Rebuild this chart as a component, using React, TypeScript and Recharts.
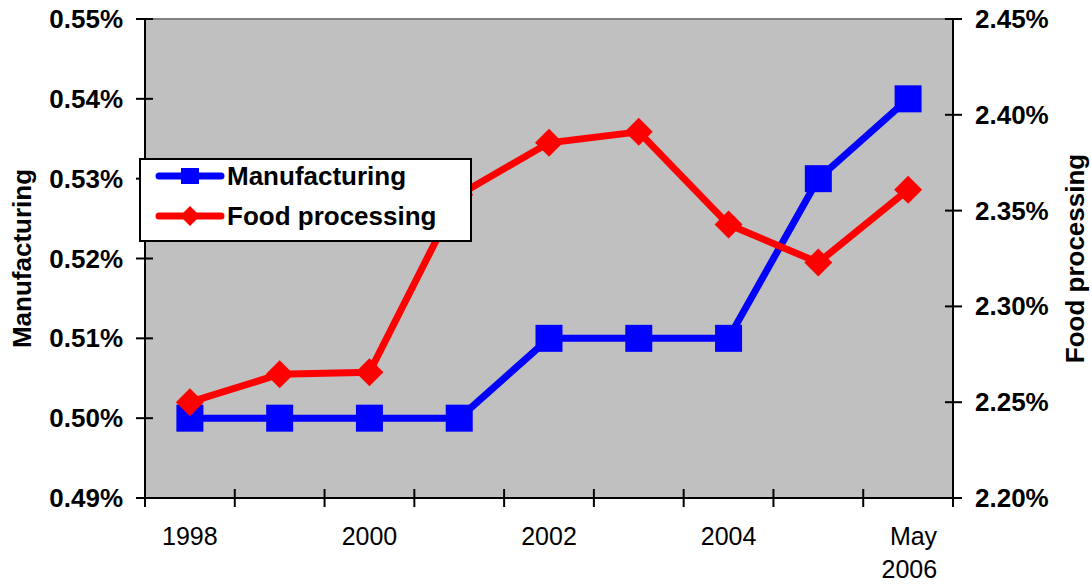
import { LineChart, Line, XAxis, YAxis, CartesianGrid, ReferenceLine } from "recharts"

const categories = ["1998", "1999", "2000", "2001", "2002", "2003", "2004", "2005", "May 2006"]
const manufacturing = [0.5, 0.5, 0.5, 0.5, 0.51, 0.51, 0.51, 0.53, 0.54]
const foodProcessing = [2.25, 2.2646, 2.2656, 2.3583, 2.3854, 2.3911, 2.3427, 2.3229, 2.3609]
const leftTicks = [0.49, 0.5, 0.51, 0.52, 0.53, 0.54, 0.55]
const rightTicks = [2.2, 2.25, 2.3, 2.35, 2.4, 2.45]
const labelledCategories = ["1998", "2000", "2002", "2004", "May 2006"]

const FONT = "'Liberation Sans', Arial, sans-serif"
const BLUE = "#0000FF"
const RED = "#FF0000"

const data = categories.map((c, i) => ({
  pos: i + 0.5,
  name: c,
  manufacturing: manufacturing[i],
  food: foodProcessing[i],
}))

// tick lines sit on category boundaries, labels in the middle of a category
const boundaryTicks = categories.map((_, i) => i).concat([categories.length])
const labelTicks = labelledCategories.map((c) => categories.indexOf(c) + 0.5)
const xTicks = [...boundaryTicks, ...labelTicks].sort((a, b) => a - b)

function XTick({ x, y, payload }: any) {
  const v = payload.value
  if (Number.isInteger(v)) {
    return <line x1={x} x2={x} y1={y - 9} y2={y + 9} stroke="#000" strokeWidth={2} />
  }
  const lines = categories[Math.floor(v)].split(" ")
  const multi = lines.length > 1
  return (
    <text
      x={multi ? x + 29 : x}
      y={y + 47}
      textAnchor={multi ? "end" : "middle"}
      fontFamily={FONT}
      fontSize={25}
      fill="#000"
    >
      {lines.map((l, i) => (
        <tspan key={i} x={multi ? x + 29 : x} dy={i === 0 ? 0 : 33}>
          {l}
        </tspan>
      ))}
    </text>
  )
}

function LeftTick({ x, y, payload }: any) {
  return (
    <g>
      <line x1={x - 9} x2={x + 8} y1={y} y2={y} stroke="#000" strokeWidth={2} />
      <text x={x - 22} y={y} textAnchor="end" dominantBaseline="central" fontFamily={FONT} fontSize={26} fontWeight="bold" fill="#000">
        {payload.value.toFixed(2)}%
      </text>
    </g>
  )
}

function RightTick({ x, y, payload }: any) {
  return (
    <g>
      <line x1={x - 8} x2={x + 9} y1={y} y2={y} stroke="#000" strokeWidth={2} />
      <text x={x + 22} y={y} textAnchor="start" dominantBaseline="central" fontFamily={FONT} fontSize={26} fontWeight="bold" fill="#000">
        {payload.value.toFixed(2)}%
      </text>
    </g>
  )
}

function axisTitle(text: string, dx: number) {
  return ({ viewBox }: any) => {
    const cx = viewBox.x + dx
    const cy = viewBox.y + viewBox.height / 2
    return (
      <text
        x={cx}
        y={cy}
        textAnchor="middle"
        dominantBaseline="central"
        transform={`rotate(-90, ${cx}, ${cy})`}
        fontFamily={FONT}
        fontSize={26}
        fontWeight="bold"
        fill="#000"
      >
        {text}
      </text>
    )
  }
}

function SquareDot(props: any) {
  const { cx, cy, index } = props
  return <rect key={`sq-${index}`} x={cx - 13.5} y={cy - 13.5} width={27} height={27} fill={BLUE} />
}

function DiamondDot(props: any) {
  const { cx, cy, index } = props
  const r = 14
  return (
    <polygon
      key={`dm-${index}`}
      points={`${cx},${cy - r} ${cx + r},${cy} ${cx},${cy + r} ${cx - r},${cy}`}
      fill={RED}
    />
  )
}

const legendItems = [
  { name: "Manufacturing", color: BLUE, marker: "square" },
  { name: "Food processing", color: RED, marker: "diamond" },
]

function LegendBox() {
  return (
    <div
      style={{
        position: "absolute",
        left: 139,
        top: 158,
        width: 333,
        height: 84,
        boxSizing: "border-box",
        border: "2px solid #000",
        background: "#fff",
      }}
    >
      <svg width={329} height={80} style={{ display: "block" }}>
        {legendItems.map((it, i) => {
          const cy = 16 + i * 40
          return (
            <g key={it.name}>
              <line x1={18} x2={80} y1={cy} y2={cy} stroke={it.color} strokeWidth={7} strokeLinecap="round" />
              {it.marker === "square" ? (
                <rect x={40} y={cy - 8} width={18} height={16} fill={it.color} />
              ) : (
                <polygon points={`49,${cy - 10} 59,${cy} 49,${cy + 10} 39,${cy}`} fill={it.color} />
              )}
              <text x={86} y={cy} dominantBaseline="central" fontFamily={FONT} fontSize={26} fontWeight="bold" fill="#000">
                {it.name}
              </text>
            </g>
          )
        })}
      </svg>
    </div>
  )
}

export default function App() {
  return (
    <div style={{ position: "absolute", left: 0, top: 0, width: 1091, height: 584, background: "#fff" }}>
      <LineChart width={1091} height={584} data={data} margin={{ top: 19, right: 0, left: 0, bottom: 0 }}>
        <CartesianGrid fill="#C0C0C0" horizontal={false} vertical={false} stroke="none" yAxisId="left" />
        <XAxis
          dataKey="pos"
          type="number"
          domain={[0, categories.length]}
          ticks={xTicks}
          interval={0}
          height={86}
          tick={<XTick />}
          tickLine={false}
          tickSize={0}
          tickMargin={0}
          axisLine={{ stroke: "#000", strokeWidth: 2 }}
        />
        <YAxis
          yAxisId="left"
          orientation="left"
          width={145}
          domain={[0.49, 0.55]}
          ticks={leftTicks}
          interval={0}
          tick={<LeftTick />}
          tickLine={false}
          tickSize={0}
          tickMargin={0}
          axisLine={{ stroke: "#000", strokeWidth: 2 }}
          label={axisTitle("Manufacturing", 22)}
        />
        <YAxis
          yAxisId="right"
          orientation="right"
          width={138}
          domain={[2.2, 2.45]}
          ticks={rightTicks}
          interval={0}
          tick={<RightTick />}
          tickLine={false}
          tickSize={0}
          tickMargin={0}
          axisLine={{ stroke: "#000", strokeWidth: 2 }}
          label={axisTitle("Food processing", 122)}
        />
        <ReferenceLine yAxisId="left" y={0.55} stroke="#808080" strokeWidth={2} />
        <Line
          yAxisId="left"
          dataKey="manufacturing"
          name="Manufacturing"
          stroke={BLUE}
          strokeWidth={7}
          dot={SquareDot}
          activeDot={false}
          isAnimationActive={false}
        />
        <Line
          yAxisId="right"
          dataKey="food"
          name="Food processing"
          stroke={RED}
          strokeWidth={7}
          dot={DiamondDot}
          activeDot={false}
          isAnimationActive={false}
        />
      </LineChart>
      <LegendBox />
    </div>
  )
}
